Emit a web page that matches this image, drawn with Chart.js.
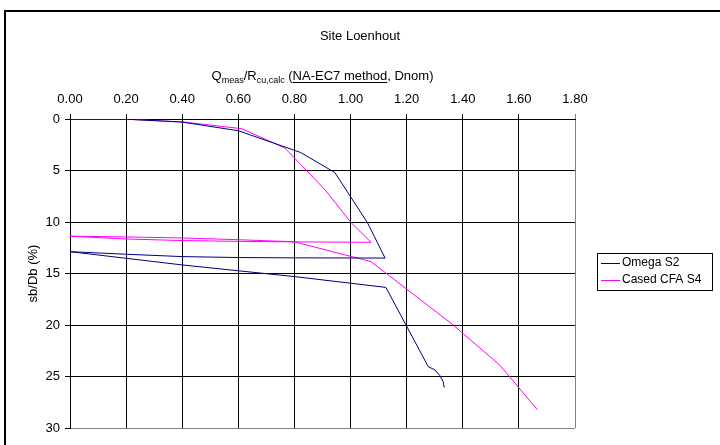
<!DOCTYPE html>
<html>
<head>
<meta charset="utf-8">
<script src="https://cdn.jsdelivr.net/npm/chart.js@4.4.1/dist/chart.umd.min.js"></script>
<style>
  html, body { margin: 0; padding: 0; background: #fff; }
  #wrap { width: 720px; height: 445px; }
</style>
</head>
<body>
<div id="wrap"><canvas id="chart" width="720" height="445"></canvas></div>
<script>
// ===== data =====
const chartTitle = 'Site Loenhout';
const yTitle = 'sb/Db (%)';
const xTicks = [0, 0.2, 0.4, 0.6, 0.8, 1.0, 1.2, 1.4, 1.6, 1.8];
const yTicks = [0, 5, 10, 15, 20, 25, 30];

const omegaLabel = 'Omega S2';
const omegaX = [0, 0.2, 0.4, 0.6, 0.822, 0.944, 1.061, 1.123,
                0.8, 0.6, 0.4, 0.2, 0,
                0.4, 0.8, 1.126, 1.277, 1.30, 1.318, 1.33, 1.334];
const omegaY = [0, 0.02, 0.3, 1.14, 3.25, 5.2, 10.1, 13.5,
                13.48, 13.45, 13.36, 13.13, 12.88,
                14.17, 15.3, 16.35, 24.05, 24.35, 24.9, 25.5, 26.07];

const casedLabel = 'Cased CFA S4';
const casedX = [0, 0.2, 0.4, 0.612, 0.766, 0.91, 1.0, 1.073,
                0.8, 0.6, 0.4, 0.2, 0,
                0.2, 0.4, 0.6, 0.8, 1.073, 1.366, 1.532, 1.665];
const casedY = [0, 0.02, 0.28, 0.94, 2.82, 6.9, 10.0, 11.97,
                11.93, 11.88, 11.8, 11.65, 11.38,
                11.45, 11.55, 11.72, 11.92, 13.85, 20.0, 23.9, 28.2];

const omegaColor = '#000080';
const casedColor = '#ff00ff';
const FONT = '"Liberation Sans", Arial, sans-serif';

function toPoints(xs, ys) {
    return xs.map((x, i) => ({ x: x, y: ys[i] }));
}

// ===== extra drawing: frame, titles, legend =====
const decorations = {
    id: 'decorations',
    beforeDraw(chart) {
        const ctx = chart.ctx;
        ctx.save();
        ctx.fillStyle = '#fff';
        ctx.fillRect(0, 0, chart.width, chart.height);
        ctx.restore();
    },
    afterDraw(chart) {
        const ctx = chart.ctx;
        const area = chart.chartArea;
        ctx.save();

        // outer frame (runs off the right and bottom edges)
        ctx.strokeStyle = '#000';
        ctx.lineWidth = 2;
        ctx.strokeRect(5, 11, 730, 450);

        // main title
        ctx.fillStyle = '#000';
        ctx.font = '13px ' + FONT;
        ctx.textAlign = 'center';
        ctx.textBaseline = 'middle';
        ctx.fillText(chartTitle, 360, 36);

        // x axis title with subscripts and underline
        const parts = [
            { t: 'Q', sub: false },
            { t: 'meas', sub: true },
            { t: '/R', sub: false },
            { t: 'cu,calc', sub: true },
            { t: ' (', sub: false },
            { t: 'NA-EC7 method', sub: false, u: true },
            { t: ', Dnom)', sub: false }
        ];
        const big = '13px ' + FONT, small = '9px ' + FONT;
        let total = 0;
        parts.forEach(p => { ctx.font = p.sub ? small : big; p.w = ctx.measureText(p.t).width; total += p.w; });
        let x = (area.left + area.right) / 2 - total / 2;
        const base = 80;
        ctx.textAlign = 'left';
        ctx.textBaseline = 'alphabetic';
        parts.forEach(p => {
            ctx.font = p.sub ? small : big;
            ctx.fillText(p.t, x, p.sub ? base + 3 : base);
            if (p.u) {
                ctx.fillRect(x, base + 2, p.w, 1);
            }
            x += p.w;
        });

        // y axis title
        ctx.save();
        ctx.translate(33, (area.top + area.bottom) / 2);
        ctx.rotate(-Math.PI / 2);
        ctx.font = '13px ' + FONT;
        ctx.textAlign = 'center';
        ctx.textBaseline = 'middle';
        ctx.fillText(yTitle, 0, 0);
        ctx.restore();

        // legend box
        const lx = 597, ly = 253, lw = 115, lh = 37;
        ctx.lineWidth = 1;
        ctx.strokeStyle = '#000';
        ctx.strokeRect(lx + 0.5, ly + 0.5, lw, lh);
        ctx.font = '12px ' + FONT;
        ctx.textBaseline = 'middle';
        chart.data.datasets.forEach((ds, i) => {
            const yy = ly + 10 + i * 17;
            ctx.strokeStyle = ds.borderColor;
            ctx.beginPath();
            ctx.moveTo(lx + 4, yy + 0.5);
            ctx.lineTo(lx + 23, yy + 0.5);
            ctx.stroke();
            ctx.fillStyle = '#000';
            ctx.fillText(ds.label, lx + 25, yy);
        });

        ctx.restore();
    }
};

const gridColor = last => c => (c.tick && c.tick.value === last ? '#808080' : '#000');

new Chart(document.getElementById('chart'), {
    type: 'scatter',
    data: {
        datasets: [
            { label: omegaLabel, data: toPoints(omegaX, omegaY), showLine: true,
              borderColor: omegaColor, backgroundColor: omegaColor, borderWidth: 1,
              pointRadius: 0, tension: 0, fill: false },
            { label: casedLabel, data: toPoints(casedX, casedY), showLine: true,
              borderColor: casedColor, backgroundColor: casedColor, borderWidth: 1,
              pointRadius: 0, tension: 0, fill: false }
        ]
    },
    options: {
        responsive: false,
        animation: false,
        devicePixelRatio: 1,
        layout: { padding: { left: 0, right: 145, top: 0, bottom: 17 } },
        plugins: { legend: { display: false }, title: { display: false }, tooltip: { enabled: false } },
        scales: {
            x: {
                type: 'linear', position: 'top', min: 0, max: 1.8,
                afterBuildTicks: s => { s.ticks = xTicks.map(v => ({ value: v })); },
                afterFit: s => { s.height = 119; },
                ticks: { callback: v => v.toFixed(2), color: '#000', padding: 7,
                         maxRotation: 0, autoSkip: false, font: { family: FONT, size: 13 } },
                grid: { color: gridColor(1.8), tickColor: gridColor(1.8), tickLength: 5, lineWidth: 1 },
                border: { color: '#000', width: 1 }
            },
            y: {
                type: 'linear', reverse: true, min: 0, max: 30,
                afterBuildTicks: s => { s.ticks = yTicks.map(v => ({ value: v })); },
                afterFit: s => { s.width = 70; },
                ticks: { color: '#000', padding: 5, autoSkip: false, font: { family: FONT, size: 13 } },
                grid: { color: gridColor(30), tickColor: '#000', tickLength: 5, lineWidth: 1 },
                border: { color: '#000', width: 1 }
            }
        }
    },
    plugins: [decorations]
});
</script>
</body>
</html>
